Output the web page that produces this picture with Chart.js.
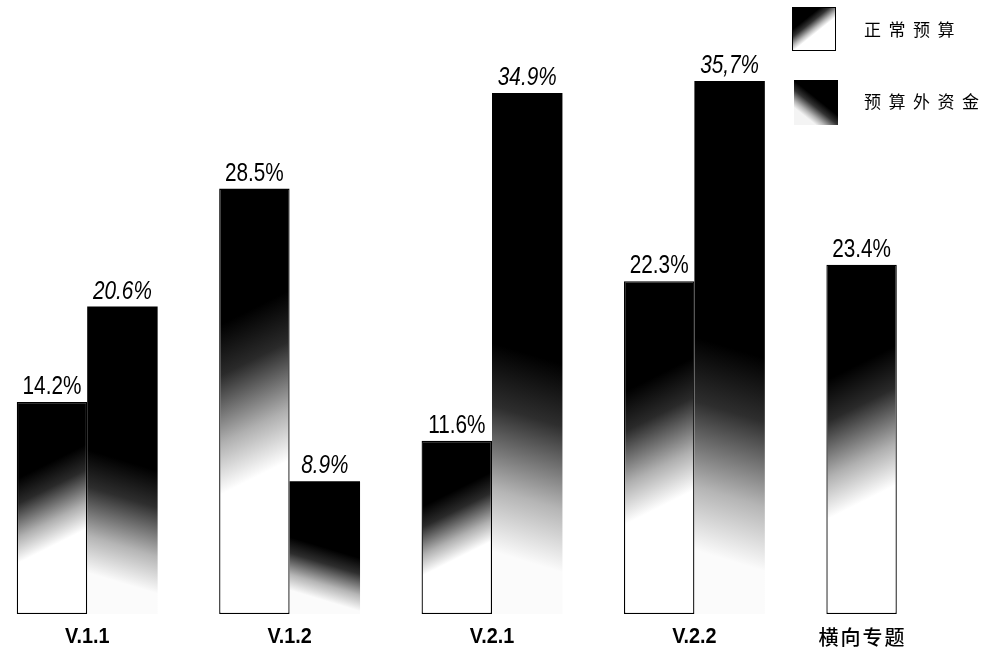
<!DOCTYPE html>
<html>
<head>
<meta charset="utf-8">
<script src="https://cdn.jsdelivr.net/npm/chart.js@4/dist/chart.umd.min.js"></script>
<style>
  html, body { margin: 0; padding: 0; background: #fff; overflow: hidden; }
  #wrap { width: 985px; height: 655px; position: relative; overflow: hidden; }
  #c { position: absolute; left: -14px; top: 0; }
</style>
</head>
<body>
<div id="wrap"><canvas id="c" width="1012" height="655"></canvas></div>
<script>
// ---- data ----
const categories = ['V.1.1', 'V.1.2', 'V.2.1', 'V.2.2', '横向专题'];
const seriesNames = ['正常预算', '预算外资金'];
const normalBudget = [14.2, 28.5, 11.6, 22.3, 23.4];
const extraBudget = [20.6, 8.9, 34.9, 35.7, null];
const normalLabels = ['14.2%', '28.5%', '11.6%', '22.3%', '23.4%'];
const extraLabels = ['20.6%', '8.9%', '34.9%', '35,7%', null];

// ---- styles ----
const SHIFT = 14; // canvas is offset 14px to the left of the page
const gradStyles = [
  { fD: 0.28, fW: 0.68, a: 0.5, stops: [[0, '#000'], [0.3, '#2a2a2a'], [0.7, '#b0b0b0'], [1, '#fff']] },
  { fD: 0.5, fW: 0.9, a: -0.3, stops: [[0, '#000'], [0.3, '#2e2e2e'], [0.7, '#b5b5b5'], [1, '#fbfbfb']] }
];
const legendGradStyles = [
  { fD: 0.12, fW: 0.62, a: 0.8, stops: [[0, '#000'], [0.35, '#333'], [0.75, '#bbb'], [1, '#fff']] },
  { fD: 0.4, fW: 1.0, a: -0.8, stops: [[0, '#000'], [0.35, '#333'], [0.75, '#b5b5b5'], [1, '#f4f4f4']] }
];
const LATIN = '"Liberation Sans", Arial, Helvetica, sans-serif';
const CJK = '"Noto Sans CJK SC", "Noto Sans", sans-serif';

function makeGrad(ctx, xC, top, bottom, st) {
  const h = bottom - top;
  const y0 = top + st.fD * h;
  const s = (st.fW - st.fD) * h / (1 + st.a * st.a);
  const g = ctx.createLinearGradient(xC, y0, xC + st.a * s, y0 + s);
  st.stops.forEach(([p, c]) => g.addColorStop(p, c));
  return g;
}

const gradientPlugin = {
  id: 'gradFill',
  beforeDatasetsDraw(chart) {
    const ctx = chart.ctx;
    chart.data.datasets.forEach((ds, di) => {
      const meta = chart.getDatasetMeta(di);
      meta.data.forEach((el, i) => {
        if (ds.data[i] == null) return;
        const g = makeGrad(ctx, el.x, Math.min(el.y, el.base), Math.max(el.y, el.base), gradStyles[di]);
        el.options = Object.assign({}, el.options, { backgroundColor: g });
      });
    });
  }
};

const labelPlugin = {
  id: 'textLabels',
  afterDatasetsDraw(chart) {
    const ctx = chart.ctx;
    const texts = [normalLabels, extraLabels];
    ctx.save();
    ctx.fillStyle = '#000';
    ctx.textAlign = 'center';
    ctx.textBaseline = 'alphabetic';
    chart.data.datasets.forEach((ds, di) => {
      const meta = chart.getDatasetMeta(di);
      meta.data.forEach((el, i) => {
        const t = texts[di][i];
        if (ds.data[i] == null || !t) return;
        ctx.save();
        ctx.font = (di === 1 ? 'italic ' : '') + '25px ' + LATIN;
        ctx.translate(el.x, el.y - 8);
        ctx.scale(0.83, 1);
        ctx.fillText(t, 0, 0);
        ctx.restore();
      });
    });
    // category labels, centred under the bars that exist
    const bottom = chart.chartArea.bottom;
    categories.forEach((cat, i) => {
      let l = Infinity, r = -Infinity;
      chart.data.datasets.forEach((ds, di) => {
        if (ds.data[i] == null) return;
        const el = chart.getDatasetMeta(di).data[i];
        l = Math.min(l, el.x - el.width / 2);
        r = Math.max(r, el.x + el.width / 2);
      });
      const cx = (l + r) / 2;
      ctx.save();
      ctx.textBaseline = 'middle';
      ctx.translate(cx, bottom + 23);
      if (/[^\x00-\x7f]/.test(cat)) {
        ctx.font = '500 20px ' + CJK;
        const chars = [...cat];
        const step = 22;
        const start = -step * (chars.length - 1) / 2;
        chars.forEach((ch, k) => ctx.fillText(ch, start + k * step, 0));
      } else {
        ctx.font = 'bold 22px ' + LATIN;
        ctx.scale(0.9, 1);
        ctx.fillText(cat, 0, 0);
      }
      ctx.restore();
    });
    ctx.restore();
  }
};

const legendPlugin = {
  id: 'customLegend',
  afterDraw(chart) {
    const ctx = chart.ctx;
    const boxes = [
      { x: 792, y: 7, w: 44, h: 44, border: true, ty: 30 },
      { x: 794, y: 80, w: 44, h: 45, border: false, ty: 102 }
    ];
    ctx.save();
    ctx.translate(SHIFT, 0);
    boxes.forEach((b, di) => {
      const g = makeGrad(ctx, b.x + b.w / 2, b.y, b.y + b.h, legendGradStyles[di]);
      ctx.fillStyle = g;
      ctx.fillRect(b.x, b.y, b.w, b.h);
      if (b.border) {
        ctx.strokeStyle = '#000';
        ctx.lineWidth = 1;
        ctx.strokeRect(b.x + 0.5, b.y + 0.5, b.w - 1, b.h - 1);
      }
      ctx.fillStyle = '#000';
      ctx.font = '17px ' + CJK;
      ctx.textAlign = 'left';
      ctx.textBaseline = 'middle';
      const name = chart.data.datasets[di].label;
      [...name].forEach((ch, k) => ctx.fillText(ch, 864 + k * 24.5, b.ty));
    });
    ctx.restore();
  }
};

new Chart(document.getElementById('c'), {
  type: 'bar',
  data: {
    labels: categories,
    datasets: [
      { label: seriesNames[0], data: normalBudget, backgroundColor: '#000', borderColor: '#000', borderWidth: 1.3, borderSkipped: false },
      { label: seriesNames[1], data: extraBudget, backgroundColor: '#000', borderWidth: 0 }
    ]
  },
  options: {
    responsive: false,
    devicePixelRatio: 1,
    animation: false,
    categoryPercentage: 0.696,
    barPercentage: 1.0,
    layout: { padding: { left: 0, right: 0, top: 2, bottom: 41 } },
    plugins: { legend: { display: false }, tooltip: { enabled: false } },
    scales: {
      x: { display: false, offset: true },
      y: { display: false, min: 0, max: 41 }
    }
  },
  plugins: [gradientPlugin, labelPlugin, legendPlugin]
});
</script>
</body>
</html>
